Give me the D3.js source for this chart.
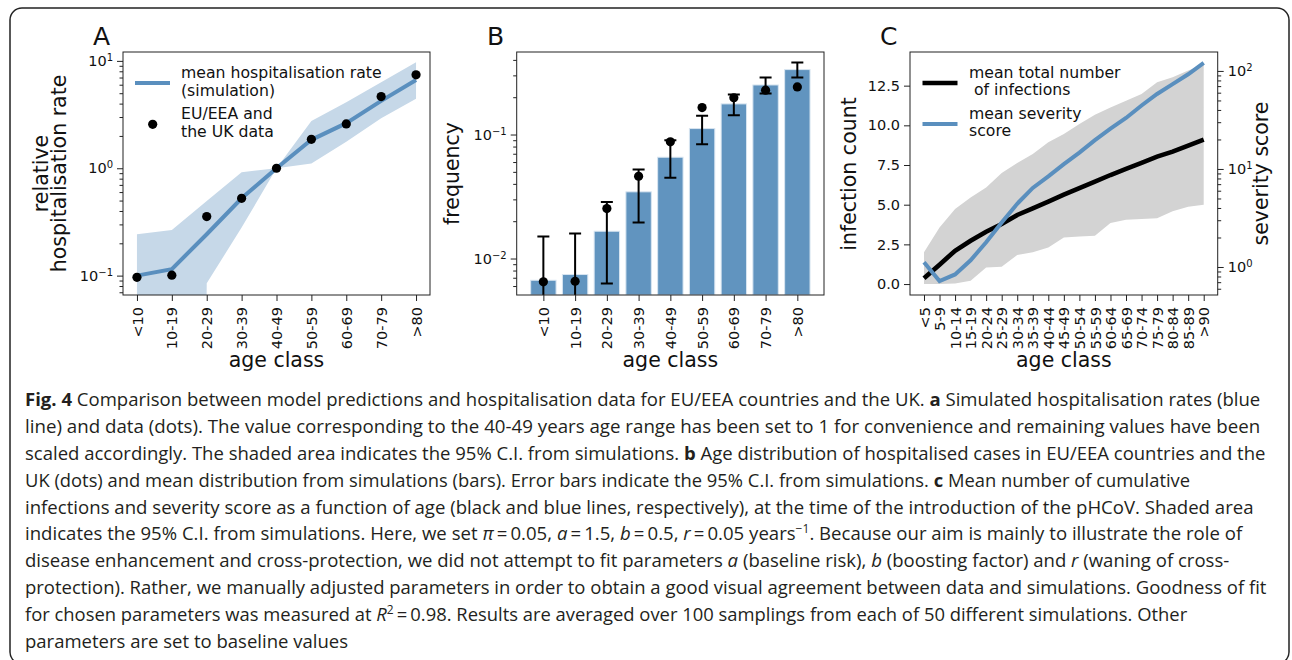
<!DOCTYPE html>
<html>
<head>
<meta charset="utf-8">
<script src="https://cdn.jsdelivr.net/npm/d3@7"></script>
<style>
body { margin: 0; background: #fff; }
svg text { font-family: "DejaVu Sans", sans-serif; fill: #111; }
</style>
</head>
<body>
<div id="fig"></div>
<script>
// ---- panel A : relative hospitalisation rate ----
var ageA = ["<10", "10-19", "20-29", "30-39", "40-49", "50-59", "60-69", "70-79", ">80"];
var hospSim  = [0.100, 0.115, 0.243, 0.525, 1.0, 1.84, 2.63, 4.24, 6.65];
var hospLow  = [0, 0, 0.085, 0.28, 1.0, 1.11, 1.77, 2.92, 4.43];
var hospHigh = [0.243, 0.266, 0.496, 0.918, 1.0, 2.76, 4.12, 6.33, 9.72];
var hospData = [0.0965, 0.101, 0.355, 0.525, 1.0, 1.86, 2.59, 4.65, 7.41];

// ---- panel B : age distribution of hospitalised cases ----
var freqSim  = [0.00668, 0.00743, 0.0166, 0.0345, 0.0656, 0.1117, 0.1766, 0.251, 0.334];
var freqLow  = [0, 0, 0.00628, 0.0195, 0.0448, 0.0835, 0.1432, 0.2143, 0.288];
var freqHigh = [0.01503, 0.0159, 0.0286, 0.0522, 0.0900, 0.1415, 0.2103, 0.288, 0.381];
var freqData = [0.00649, 0.00656, 0.0253, 0.0461, 0.0873, 0.165, 0.198, 0.228, 0.242];

// ---- panel C : infections and severity ----
var ageC = ["<5", "5-9", "10-14", "15-19", "20-24", "25-29", "30-34", "35-39", "40-44", "45-49",
            "50-54", "55-59", "60-64", "65-69", "70-74", "75-79", "80-84", "85-89", ">90"];
var infMean = [0.36, 1.22, 2.1, 2.73, 3.3, 3.78, 4.35, 4.77, 5.19, 5.63, 6.05, 6.45, 6.87, 7.25, 7.63, 8.03, 8.34, 8.72, 9.1];
var infLow  = [0, 0, 0.04, 0.21, 1.05, 1.09, 1.83, 2.0, 2.31, 2.94, 3.0, 3.05, 3.84, 4.05, 4.1, 4.14, 4.58, 4.87, 5.0];
var infHigh = [2.0, 3.57, 4.73, 5.46, 6.09, 7.0, 7.63, 8.19, 8.93, 9.45, 10.08, 10.67, 11.13, 11.55, 11.97, 12.71, 13.03, 13.45, 13.85];
var severity = [1.12, 0.72, 0.84, 1.17, 1.79, 2.84, 4.42, 6.41, 8.4, 11.2, 14.7, 19.7, 25.8, 33.1, 44.4, 58.2, 73.4, 92.5, 121];
var infTicks = [0, 2.5, 5, 7.5, 10, 12.5];

var blue = "#5a8fbe", barBlue = "#6194bf", bandBlue = "#c6d8e8", gray = "#d3d3d3";
var tickFont = 14.5, labelFont = 20.5, legendFont = 15.7;

var svg = d3.select("#fig").append("svg")
    .attr("width", 1292)
    .attr("height", 660);

svg.append("rect")
    .attr("x", 10).attr("y", 8)
    .attr("width", 1279).attr("height", 656)
    .attr("rx", 12)
    .attr("fill", "none")
    .attr("stroke", "#222")
    .attr("stroke-width", 1.5);

function minorTicks(lo, hi) {
    var out = [];
    for (var e = Math.floor(Math.log10(lo)); e <= Math.ceil(Math.log10(hi)); e++) {
        for (var m = 2; m <= 9; m++) {
            var v = m * Math.pow(10, e);
            if (v >= lo && v <= hi) out.push(v);
        }
    }
    return out;
}

function styleAxis(g) {
    g.attr("font-size", null).attr("font-family", null);
    g.select(".domain").remove();
    g.selectAll("line").attr("stroke", "#222");
    g.selectAll("text").style("font-size", tickFont + "px").attr("fill", "#111");
}

function logLabels(g) {
    g.selectAll(".tick text").each(function(d) {
        var e = Math.round(Math.log10(d));
        var t = d3.select(this).text("10");
        t.append("tspan")
            .attr("dy", "-0.5em")
            .style("font-size", "10px")
            .text(String(e).replace("-", "\u2212"));
    });
}

function panel(left, top, width, height, id) {
    var g = svg.append("g").attr("transform", "translate(" + left + "," + top + ")");
    g.append("clipPath").attr("id", id)
        .append("rect").attr("width", width).attr("height", height);
    return g;
}

function frame(g, width, height) {
    g.append("rect")
        .attr("width", width).attr("height", height)
        .attr("fill", "none").attr("stroke", "#222").attr("stroke-width", 1);
}

function bottomAxis(g, x, height) {
    var ax = g.append("g")
        .attr("transform", "translate(0," + height + ")")
        .call(d3.axisBottom(x).tickSize(6));
    styleAxis(ax);
    ax.selectAll(".tick text")
        .attr("transform", "rotate(-90)")
        .attr("x", -12).attr("y", 0).attr("dy", "0.35em")
        .style("text-anchor", "end");
}

function axisTitle(text, x, y, rotate) {
    svg.append("text")
        .attr("transform", "translate(" + x + "," + y + ")" + (rotate ? " rotate(-90)" : ""))
        .attr("text-anchor", "middle")
        .style("font-size", labelFont + "px")
        .text(text);
}

function panelLetter(text, x) {
    svg.append("text").attr("x", x).attr("y", 45).style("font-size", "25px").text(text);
}

// ================= Panel A =================
var wA = 307, hA = 243;
var gA = panel(123, 52, wA, hA, "clipA");
var xA = d3.scalePoint().domain(ageA).range([0, wA]).padding(0.4);
var yA = d3.scaleLog().domain([0.066, 12.1]).range([hA, 0]);
var yAc = function(v) { return v > 0 ? yA(v) : hA + 5000; };

var plotA = gA.append("g").attr("clip-path", "url(#clipA)");
plotA.append("path")
    .datum(ageA)
    .attr("fill", bandBlue)
    .attr("d", d3.area()
        .x(function(d) { return xA(d); })
        .y0(function(d, i) { return yAc(hospLow[i]); })
        .y1(function(d, i) { return yAc(hospHigh[i]); }));
plotA.append("path")
    .datum(ageA)
    .attr("fill", "none").attr("stroke", blue).attr("stroke-width", 4)
    .attr("d", d3.line()
        .x(function(d) { return xA(d); })
        .y(function(d, i) { return yA(hospSim[i]); }));
plotA.selectAll("circle")
    .data(ageA)
    .join("circle")
    .attr("cx", function(d) { return xA(d); })
    .attr("cy", function(d, i) { return yA(hospData[i]); })
    .attr("r", 4.6)
    .attr("fill", "#000");

var yAxA = gA.append("g").call(d3.axisLeft(yA).tickValues([0.1, 1, 10]).tickSize(6).tickPadding(4));
styleAxis(yAxA); logLabels(yAxA);
var yMinA = gA.append("g").call(d3.axisLeft(yA).tickValues(minorTicks(0.066, 12.1)).tickSize(3.5).tickFormat(""));
styleAxis(yMinA);
bottomAxis(gA, xA, hA);
frame(gA, wA, hA);

// legend A
svg.append("line").attr("x1", 135).attr("x2", 170).attr("y1", 83).attr("y2", 83)
    .attr("stroke", blue).attr("stroke-width", 4);
svg.append("circle").attr("cx", 152.7).attr("cy", 124.3).attr("r", 4.6).attr("fill", "#000");
[["mean hospitalisation rate", 78.3], ["(simulation)", 95.7], ["EU/EEA and", 119], ["the UK data", 136.7]]
    .forEach(function(l) {
        svg.append("text").attr("x", 181).attr("y", l[1]).style("font-size", legendFont + "px").text(l[0]);
    });

panelLetter("A", 93);
axisTitle("age class", 276.5, 367, false);
axisTitle("relative", 47.5, 173.5, true);
axisTitle("hospitalisation rate", 65.5, 173.5, true);

// ================= Panel B =================
var wB = 307.3, hB = 243;
var gB = panel(516.7, 52, wB, hB, "clipB");
var xB = d3.scaleBand().domain(ageA).range([0, wB]).paddingInner(0.2).paddingOuter(0.44);
var yB = d3.scaleLog().domain([0.00508, 0.463]).range([hB, 0]);
var yBc = function(v) { return v > 0 ? yB(v) : hB + 50; };

var plotB = gB.append("g").attr("clip-path", "url(#clipB)");
plotB.selectAll("rect.bar")
    .data(ageA)
    .join("rect")
    .attr("class", "bar")
    .attr("x", function(d) { return xB(d); })
    .attr("width", xB.bandwidth())
    .attr("y", function(d, i) { return yB(freqSim[i]); })
    .attr("height", function(d, i) { return hB - yB(freqSim[i]); })
    .attr("fill", barBlue)
    .attr("stroke", "#d8e5f1")
    .attr("stroke-width", 1);

var cx = function(d) { return xB(d) + xB.bandwidth() / 2; };
var err = plotB.selectAll("g.err").data(ageA).join("g").attr("class", "err")
    .attr("stroke", "#000").attr("stroke-width", 2);
err.append("line")
    .attr("x1", cx).attr("x2", cx)
    .attr("y1", function(d, i) { return yB(freqHigh[i]); })
    .attr("y2", function(d, i) { return yBc(freqLow[i]); });
err.append("line")
    .attr("x1", function(d) { return cx(d) - 6; }).attr("x2", function(d) { return cx(d) + 6; })
    .attr("y1", function(d, i) { return yB(freqHigh[i]); })
    .attr("y2", function(d, i) { return yB(freqHigh[i]); });
err.filter(function(d, i) { return freqLow[i] > 0; })
    .append("line")
    .attr("x1", function(d) { return cx(d) - 6; }).attr("x2", function(d) { return cx(d) + 6; })
    .attr("y1", function(d) { return yB(freqLow[ageA.indexOf(d)]); })
    .attr("y2", function(d) { return yB(freqLow[ageA.indexOf(d)]); });
plotB.selectAll("circle")
    .data(ageA)
    .join("circle")
    .attr("cx", cx)
    .attr("cy", function(d, i) { return yB(freqData[i]); })
    .attr("r", 4.6)
    .attr("fill", "#000");

var yAxB = gB.append("g").call(d3.axisLeft(yB).tickValues([0.01, 0.1]).tickSize(6).tickPadding(4));
styleAxis(yAxB); logLabels(yAxB);
var yMinB = gB.append("g").call(d3.axisLeft(yB).tickValues(minorTicks(0.00508, 0.463)).tickSize(3.5).tickFormat(""));
styleAxis(yMinB);
var xPtB = d3.scalePoint().domain(ageA).range([xB(ageA[0]) + xB.bandwidth() / 2, xB(ageA[8]) + xB.bandwidth() / 2]);
bottomAxis(gB, xPtB, hB);
frame(gB, wB, hB);

panelLetter("B", 487);
axisTitle("age class", 516.7 + wB / 2, 367, false);
axisTitle("frequency", 459, 173.5, true);

// ================= Panel C =================
var wC = 307.7, hC = 243;
var gC = panel(910, 52, wC, hC, "clipC");
var xC = d3.scalePoint().domain(ageC).range([0, wC]).padding(0.9);
var yC = d3.scaleLinear().domain([-0.69, 14.62]).range([hC, 0]);
var yS = d3.scaleLog().domain([0.518, 156]).range([hC, 0]);

var plotC = gC.append("g").attr("clip-path", "url(#clipC)");
plotC.append("path")
    .datum(ageC)
    .attr("fill", gray)
    .attr("d", d3.area()
        .x(function(d) { return xC(d); })
        .y0(function(d, i) { return yC(infLow[i]); })
        .y1(function(d, i) { return yC(infHigh[i]); }));
plotC.append("path")
    .datum(ageC)
    .attr("fill", "none").attr("stroke", "#000").attr("stroke-width", 4.6)
    .attr("d", d3.line()
        .x(function(d) { return xC(d); })
        .y(function(d, i) { return yC(infMean[i]); }));
plotC.append("path")
    .datum(ageC)
    .attr("fill", "none").attr("stroke", blue).attr("stroke-width", 4)
    .attr("d", d3.line()
        .x(function(d) { return xC(d); })
        .y(function(d, i) { return yS(severity[i]); }));

var yAxC = gC.append("g").call(d3.axisLeft(yC).tickValues(infTicks).tickFormat(d3.format(".1f")).tickSize(6).tickPadding(4));
styleAxis(yAxC);
var yAxS = gC.append("g").attr("transform", "translate(" + wC + ",0)")
    .call(d3.axisRight(yS).tickValues([1, 10, 100]).tickSize(6).tickPadding(4));
styleAxis(yAxS); logLabels(yAxS);
var yMinS = gC.append("g").attr("transform", "translate(" + wC + ",0)")
    .call(d3.axisRight(yS).tickValues(minorTicks(0.518, 156)).tickSize(3.5).tickFormat(""));
styleAxis(yMinS);
bottomAxis(gC, xC, hC);
frame(gC, wC, hC);

// legend C
svg.append("line").attr("x1", 922.5).attr("x2", 957.5).attr("y1", 83).attr("y2", 83)
    .attr("stroke", "#000").attr("stroke-width", 4.6);
svg.append("line").attr("x1", 922.5).attr("x2", 957.5).attr("y1", 124).attr("y2", 124)
    .attr("stroke", blue).attr("stroke-width", 4);
[["mean total number", 78.3], ["\u00a0of infections", 95.3], ["mean severity", 119], ["score", 136]]
    .forEach(function(l) {
        svg.append("text").attr("x", 969).attr("y", l[1]).style("font-size", legendFont + "px").text(l[0]);
    });

panelLetter("C", 880);
axisTitle("age class", 910 + wC / 2, 367, false);
axisTitle("infection count", 856, 174, true);
axisTitle("severity score", 1268, 173.5, true);

// ================= Caption =================
var capLines = [
    [["Fig. 4", "b"], [" Comparison between model predictions and hospitalisation data for EU/EEA countries and the UK. "], ["a", "b"], [" Simulated hospitalisation rates (blue"]],
    [["line) and data (dots). The value corresponding to the 40-49 years age range has been set to 1 for convenience and remaining values have been"]],
    [["scaled accordingly. The shaded area indicates the 95% C.I. from simulations. "], ["b", "b"], [" Age distribution of hospitalised cases in EU/EEA countries and the"]],
    [["UK (dots) and mean distribution from simulations (bars). Error bars indicate the 95% C.I. from simulations. "], ["c", "b"], [" Mean number of cumulative"]],
    [["infections and severity score as a function of age (black and blue lines, respectively), at the time of the introduction of the pHCoV. Shaded area"]],
    [["indicates the 95% C.I. from simulations. Here, we set "], ["\u03c0", "i"], ["\u2009=\u20090.05, "], ["a", "i"], ["\u2009=\u20091.5, "], ["b", "i"], ["\u2009=\u20090.5, "], ["r", "i"], ["\u2009=\u20090.05 years"], ["\u22121", "sup"], [". Because our aim is mainly to illustrate the role of"]],
    [["disease enhancement and cross-protection, we did not attempt to fit parameters "], ["a", "i"], [" (baseline risk), "], ["b", "i"], [" (boosting factor) and "], ["r", "i"], [" (waning of cross-"]],
    [["protection). Rather, we manually adjusted parameters in order to obtain a good visual agreement between data and simulations. Goodness of fit"]],
    [["for chosen parameters was measured at "], ["R", "i"], ["2", "sup"], ["\u2009=\u20090.98. Results are averaged over 100 samplings from each of 50 different simulations. Other"]],
    [["parameters are set to baseline values"]]
];
// right end of the full caption lines (the last line keeps the mean squeeze)
var capEnds = [1261, 1261, 1266, 1191, 1254, 1242, 1230, 1267, 1188];

var scales = [];
capLines.forEach(function(segs, i) {
    var t = svg.append("text")
        .attr("x", 0)
        .attr("y", 406.5 + i * 26.8)
        .style("font-family", "'Open Sans', sans-serif")
        .style("font-size", "18.5px")
        .style("fill", "#231f20");
    var shift = 0;
    segs.forEach(function(s) {
        var ts = t.append("tspan").text(s[0]);
        if (s[1] === "b") ts.style("font-weight", 700);
        if (s[1] === "i") ts.style("font-style", "italic");
        if (s[1] === "sup") {
            ts.style("font-size", "12px").attr("dy", -7);
            shift = 7;
        } else if (shift) {
            ts.attr("dy", shift);
            shift = 0;
        }
    });
    var len = t.node().getComputedTextLength();
    var k = i < capEnds.length ? (capEnds[i] - 25) / len : d3.mean(scales);
    scales.push(k);
    t.attr("transform", "translate(25,0) scale(" + k + ",1)");
});
</script>
</body>
</html>
